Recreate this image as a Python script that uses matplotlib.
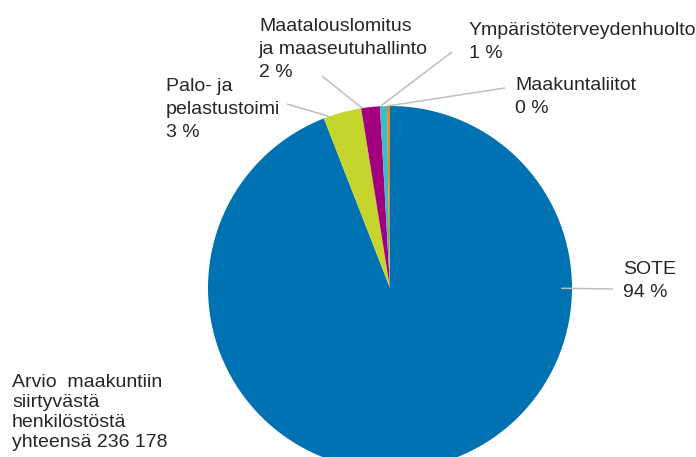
import numpy as np
import matplotlib.pyplot as plt

plt.rcParams['font.family'] = ['Liberation Sans', 'DejaVu Sans']

# data
categories = ['SOTE', 'Palo- ja\npelastustoimi', 'Maatalouslomitus\nja maaseutuhallinto',
              'Ympäristöterveydenhuolto', 'Maakuntaliitot']
values = [222200, 8000, 3900, 1450, 628]
colors = ['#0071B1', '#C4D52E', '#A2007E', '#3DBDC4', '#E38A2C']

# layout in pixels (x right, y down); text y = baseline of the last line
W, H = 696, 457
cx, cy, R = 390, 288, 182
text_pos = [(623, 297), (166, 137), (259, 77), (469, 58), (515, 113)]
leader_end = [(613, 289), (287, 104), (322, 76), (452, 52), (505, 88)]
anchor_frac = [0.266, 0.15, 0.05, 0.05, 0.1]
anchor_r = [0.94, 1.0, 1.0, 1.0, 1.0]

total = sum(values)
fig = plt.figure(figsize=(W / 100, H / 100), dpi=100)
ax = fig.add_axes([0, 0, 1, 1])
ax.pie(values, colors=colors, startangle=90, counterclock=False,
       center=(cx, H - cy), radius=R, wedgeprops=dict(linewidth=0))
ax.set_xlim(0, W)
ax.set_ylim(0, H)
ax.axis('off')

fracs = np.array(values) / total
starts = np.concatenate([[0], np.cumsum(fracs)[:-1]])
for i, cat in enumerate(categories):
    ang = np.deg2rad(90 - 360 * (starts[i] + anchor_frac[i] * fracs[i]))
    ax_x = cx + anchor_r[i] * R * np.cos(ang)
    ax_y = (H - cy) + anchor_r[i] * R * np.sin(ang)
    lx, ly = leader_end[i]
    ax.plot([ax_x, lx], [ax_y, H - ly], color='#BFBFBF', lw=1.1, solid_capstyle='butt')
    pct = round(100 * values[i] / total)
    tx, ty = text_pos[i]
    ax.text(tx, H - ty, f'{cat}\n{pct} %', fontsize=14, color='#262626',
            ha='left', va='baseline', linespacing=1.45)

total_str = f'{total:,}'.replace(',', ' ')
ax.text(12, H - 447, f'Arvio  maakuntiin\nsiirtyvästä\nhenkilöstöstä\nyhteensä {total_str}',
        fontsize=14, color='#262626', ha='left', va='baseline', linespacing=1.22)

fig.savefig('out.png', dpi=100)
